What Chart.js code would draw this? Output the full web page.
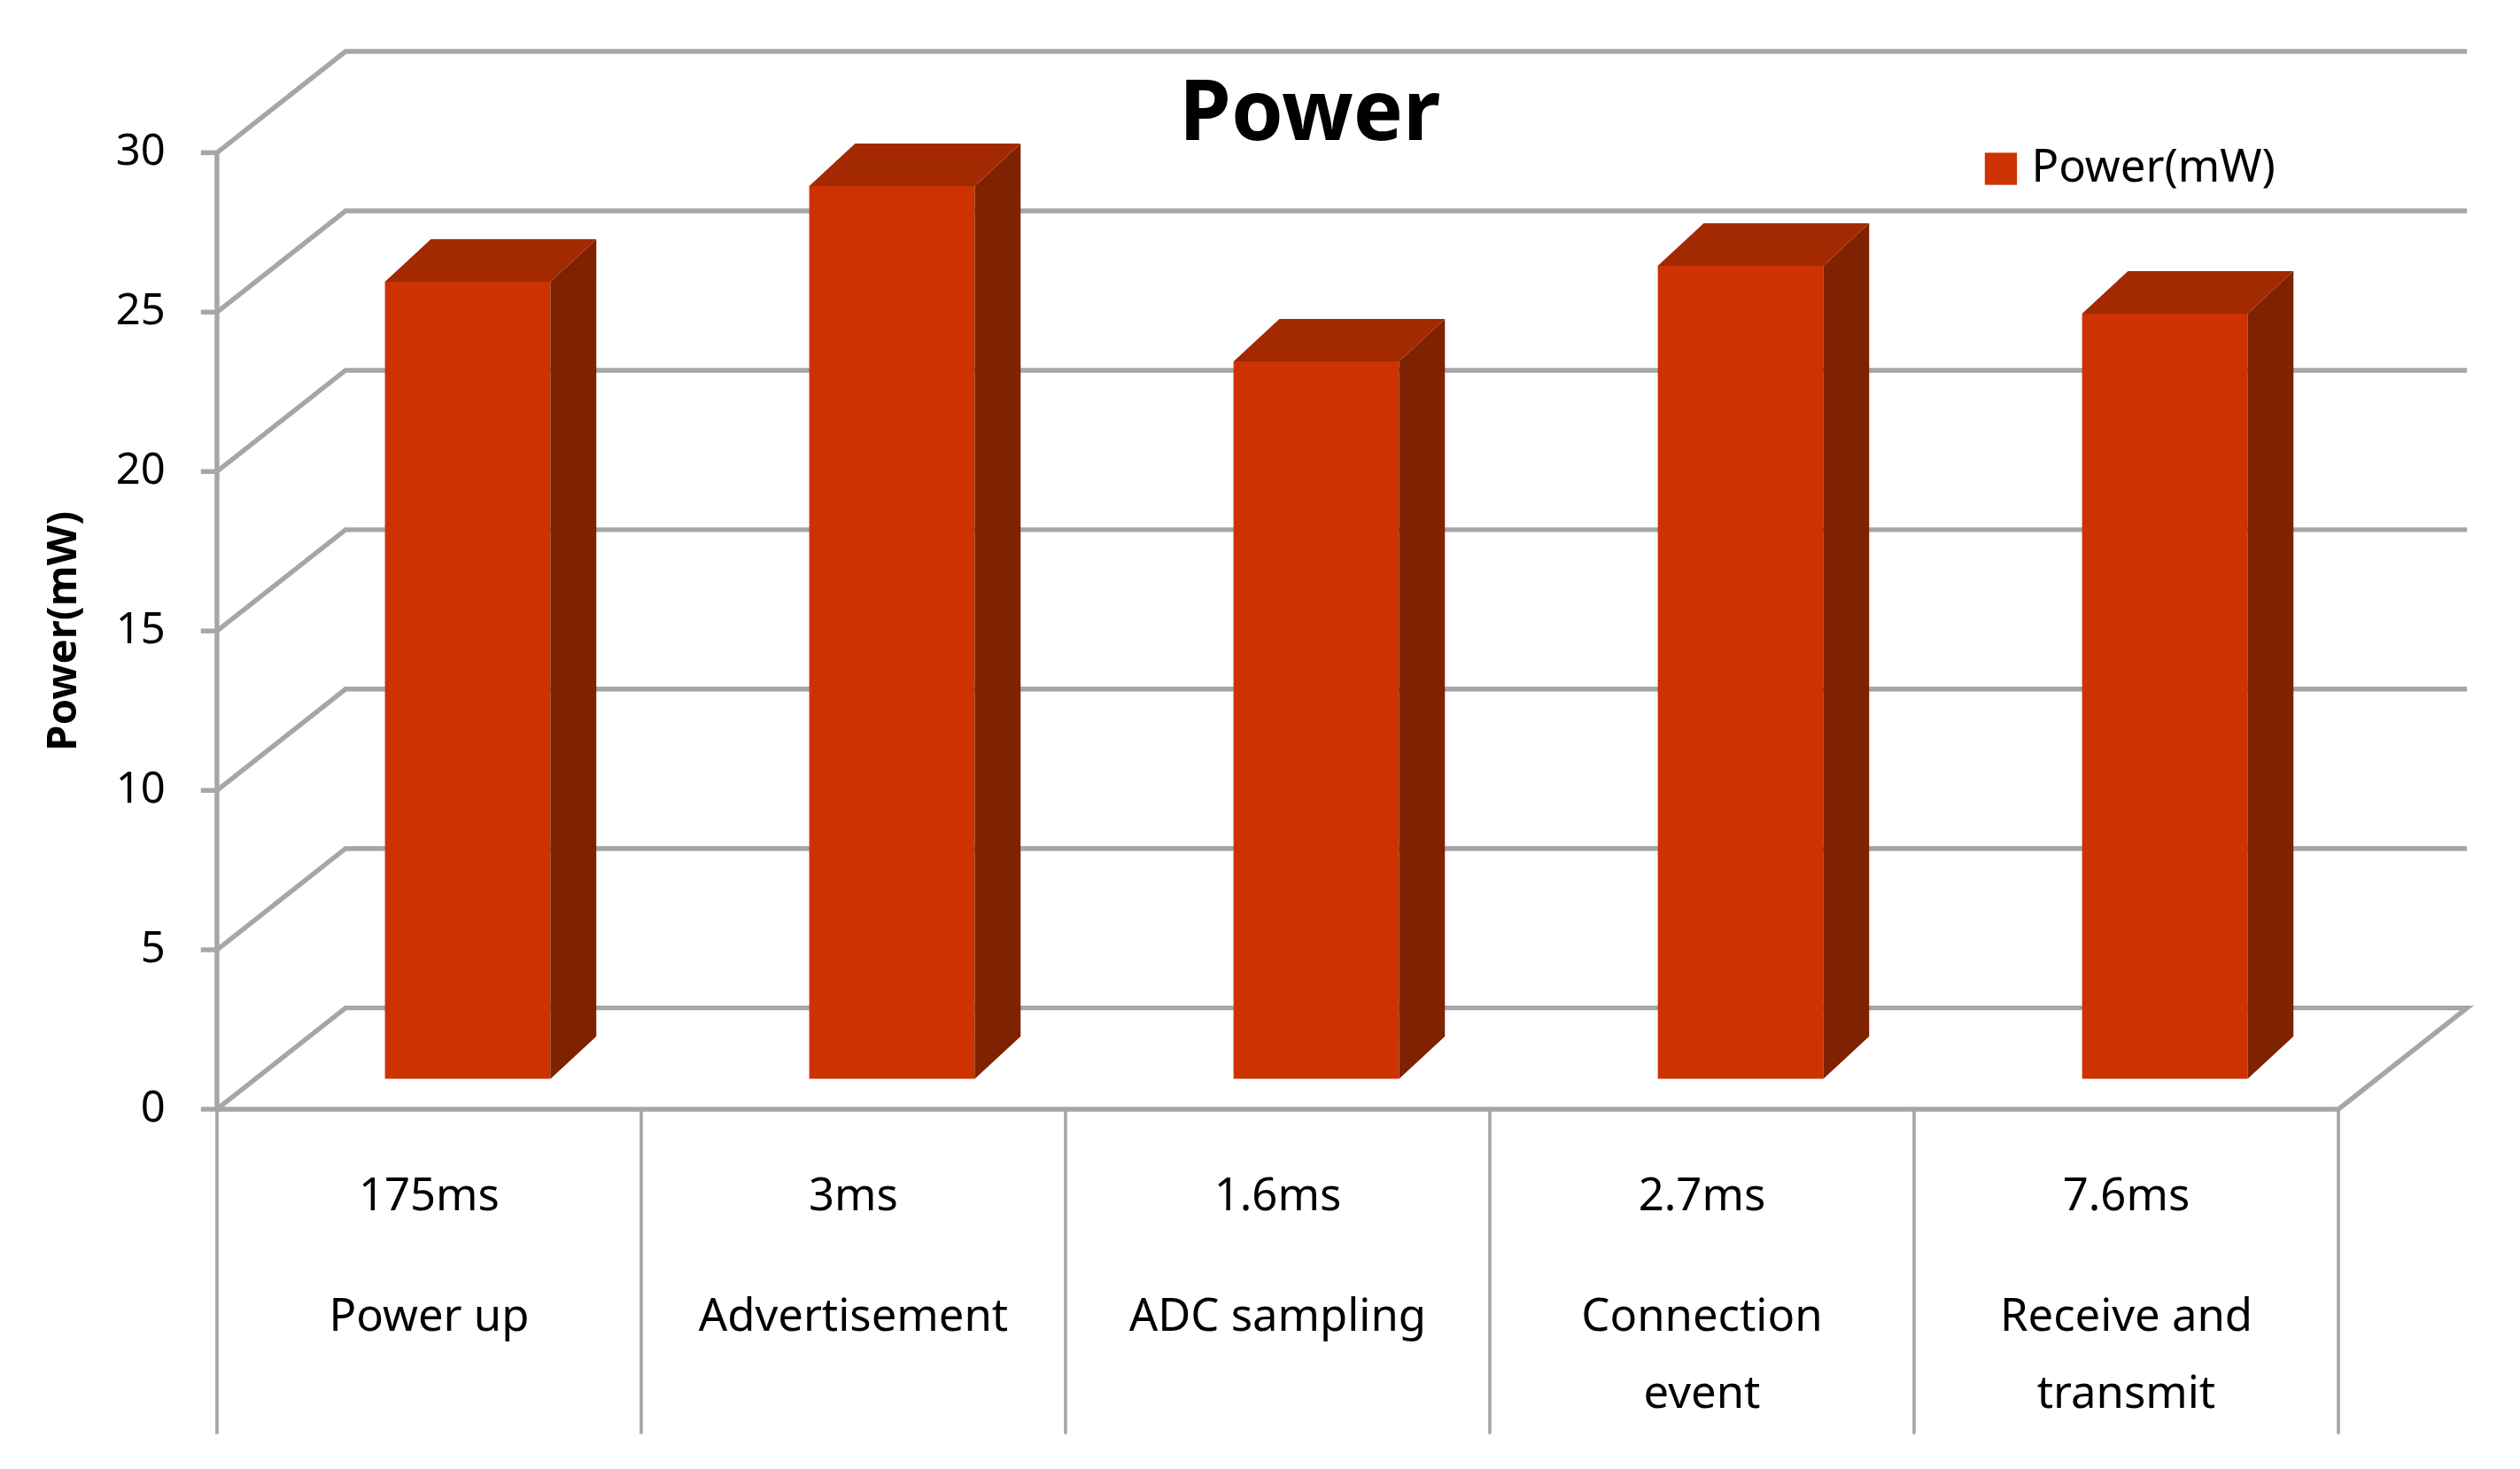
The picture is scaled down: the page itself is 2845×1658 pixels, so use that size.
<!DOCTYPE html>
<html>
<head>
<meta charset="utf-8">
<script src="https://cdn.jsdelivr.net/npm/chart.js@4"></script>
<style>
  html, body { margin: 0; padding: 0; background: #fff; }
  #wrap { width: 2845px; height: 1658px; }
</style>
</head>
<body>
<div id="wrap"><canvas id="c"></canvas></div>
<script>
// === DATA ===
const durations = ["175ms", "3ms", "1.6ms", "2.7ms", "7.6ms"];
const phases = [["Power up"], ["Advertisement"], ["ADC sampling"], ["Connection", "event"], ["Receive and", "transmit"]];
const powerValues = [25.0, 28.0, 22.5, 25.5, 24.0];
const yTicks = [0, 5, 10, 15, 20, 25, 30];

// scale from the 1568px wide reference to the real canvas
const S = 2845 / 1568;
const DX = 80 * S, DY = 63 * S;       // depth of the 3D box
const BAR_F = 0.3;                     // bar sits 30% into the depth
const BAR_D = 0.42;                    // bar's own depth
const FONT = "'Noto Sans', sans-serif";
const GRID = "#a6a6a6";

const box3d = {
  id: "box3d",
  beforeDraw(chart) {
    const { ctx, chartArea: a, scales: { y } } = chart;
    ctx.save();
    ctx.strokeStyle = GRID;
    ctx.lineWidth = 3 * S;
    yTicks.forEach((v) => {
      const py = y.getPixelForValue(v);
      ctx.beginPath();
      ctx.moveTo(a.left, py);
      ctx.lineTo(a.left + DX, py - DY);
      ctx.lineTo(a.right + DX, py - DY);
      if (v === 0) {
        ctx.lineTo(a.right, py);
        ctx.lineTo(a.left, py);
      }
      ctx.stroke();
      // tick mark
      ctx.beginPath();
      ctx.moveTo(a.left - 10 * S, py);
      ctx.lineTo(a.left, py);
      ctx.stroke();
    });
    ctx.beginPath();
    ctx.moveTo(a.left, y.getPixelForValue(30));
    ctx.lineTo(a.left, y.getPixelForValue(0));
    ctx.stroke();

    // y tick labels
    ctx.fillStyle = "#000";
    ctx.font = `${27 * S}px ${FONT}`;
    ctx.textAlign = "right";
    ctx.textBaseline = "middle";
    yTicks.forEach((v) => ctx.fillText(String(v), a.left - 32 * S, y.getPixelForValue(v)));

    // y axis title
    ctx.save();
    ctx.translate(40 * S, y.getPixelForValue(15));
    ctx.rotate(-Math.PI / 2);
    ctx.textAlign = "center";
    ctx.font = `bold ${26 * S}px ${FONT}`;
    ctx.fillText("Power(mW)", 0, 0);
    ctx.restore();

    // title
    ctx.font = `bold ${52 * S}px ${FONT}`;
    ctx.textAlign = "center";
    ctx.fillText("Power", 815 * S, 72 * S);

    // legend
    ctx.fillStyle = "#CC3300";
    ctx.fillRect(1235 * S, 95 * S, 20 * S, 20 * S);
    ctx.fillStyle = "#000";
    ctx.textAlign = "left";
    ctx.font = `${28 * S}px ${FONT}`;
    ctx.fillText("Power(mW)", 1264 * S, 105 * S);

    // category table below
    const x = chart.scales.x;
    const base = y.getPixelForValue(0);
    const step = (a.right - a.left) / durations.length;
    ctx.strokeStyle = GRID;
    ctx.lineWidth = 2 * S;
    for (let i = 0; i <= durations.length; i++) {
      const px = a.left + i * step;
      ctx.beginPath();
      ctx.moveTo(px, base);
      ctx.lineTo(px, 892 * S);
      ctx.stroke();
    }
    ctx.textAlign = "center";
    ctx.font = `${28 * S}px ${FONT}`;
    durations.forEach((d, i) => {
      const px = x.getPixelForValue(i);
      ctx.fillText(d, px, base + 55 * S);
      phases[i].forEach((t, j) => ctx.fillText(t, px, base + 130 * S + j * 48 * S));
    });
    ctx.restore();
  },
  beforeDatasetsDraw(chart) {
    chart.ctx.save();
    chart.ctx.translate(DX * BAR_F, -DY * BAR_F);
  },
  afterDatasetsDraw(chart) {
    const { ctx } = chart;
    const dx = DX * BAR_D * 0.85, dy = DY * BAR_D;
    chart.getDatasetMeta(0).data.forEach((bar) => {
      const l = bar.x - bar.width / 2, r = bar.x + bar.width / 2;
      const t = bar.y, b = bar.base;
      ctx.fillStyle = "#7F2200";
      ctx.beginPath();
      ctx.moveTo(r, t);
      ctx.lineTo(r + dx, t - dy);
      ctx.lineTo(r + dx, b - dy);
      ctx.lineTo(r, b);
      ctx.closePath();
      ctx.fill();
      ctx.fillStyle = "#A32900";
      ctx.beginPath();
      ctx.moveTo(l, t);
      ctx.lineTo(l + dx, t - dy);
      ctx.lineTo(r + dx, t - dy);
      ctx.lineTo(r, t);
      ctx.closePath();
      ctx.fill();
    });
    ctx.restore();
  },
};

new Chart(document.getElementById("c"), {
  type: "bar",
  data: {
    labels: durations,
    datasets: [{
      label: "Power(mW)",
      data: powerValues,
      backgroundColor: "#CC3300",
      borderWidth: 0,
      categoryPercentage: 1,
      barPercentage: 0.39,
    }],
  },
  options: {
    responsive: true,
    maintainAspectRatio: false,
    animation: false,
    devicePixelRatio: 1,
    layout: { padding: { left: 135 * S, right: 113 * S, top: 95 * S, bottom: 1658 - 690 * S } },
    plugins: { legend: { display: false }, tooltip: { enabled: false } },
    scales: {
      x: { display: false },
      y: { display: false, min: 0, max: 30 },
    },
  },
  plugins: [box3d],
});
</script>
</body>
</html>
